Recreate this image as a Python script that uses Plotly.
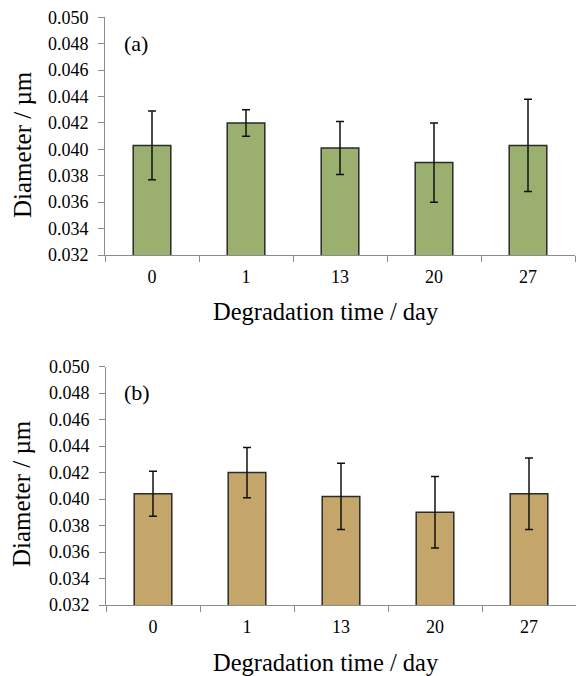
import plotly.graph_objects as go

categories = ["0", "1", "13", "20", "27"]
diam_a = [0.0403, 0.0420, 0.0401, 0.0390, 0.0403]
err_a = [0.0026, 0.0010, 0.0020, 0.0030, 0.0035]
diam_b = [0.0404, 0.0420, 0.0402, 0.0390, 0.0404]
err_b = [0.0017, 0.0019, 0.0025, 0.0027, 0.0027]
y_ticks = [0.032, 0.034, 0.036, 0.038, 0.040, 0.042, 0.044, 0.046, 0.048, 0.050]

W, H = 576, 676
FONT = "Liberation Serif"

fig = go.Figure()
fig.add_trace(go.Bar(x=categories, y=diam_a, xaxis="x", yaxis="y",
                     marker=dict(color="#9bb06f", line=dict(color="#2b2b2b", width=1.5)),
                     error_y=dict(type="data", array=err_a, visible=True, color="#111111",
                                  thickness=1.5, width=4),
                     showlegend=False))
fig.add_trace(go.Bar(x=categories, y=diam_b, xaxis="x2", yaxis="y2",
                     marker=dict(color="#c4a66a", line=dict(color="#2b2b2b", width=1.5)),
                     error_y=dict(type="data", array=err_b, visible=True, color="#111111",
                                  thickness=1.5, width=4),
                     showlegend=False))

def yax(domain, anchor):
    return dict(domain=domain, anchor=anchor, range=[0.032, 0.050], tickvals=y_ticks,
                tickformat=".3f", showgrid=False, zeroline=False, showline=True,
                linecolor="#8c8c8c", linewidth=1, ticks="outside", ticklen=6,
                tickcolor="#8c8c8c", automargin=False, ticklabelstandoff=6,
                tickfont=dict(family=FONT, size=18, color="black"))

def xax(domain, anchor):
    return dict(domain=domain, anchor=anchor, type="category", tickson="boundaries",
                showgrid=False, zeroline=False, showline=True, linecolor="#8c8c8c",
                linewidth=1, ticks="outside", ticklen=6, tickcolor="#8c8c8c", automargin=False,
                ticklabelstandoff=5, tickfont=dict(family=FONT, size=18, color="black"))

def py(pix):
    return 1 - pix / H

fig.update_layout(
    width=W, height=H, margin=dict(l=0, r=0, t=0, b=0, pad=0), autosize=False,
    paper_bgcolor="white", plot_bgcolor="white", bargap=0.6,
    font=dict(family=FONT, color="black"),
    xaxis=xax([105 / W, 575 / W], "y"),
    yaxis=yax([py(255), py(17.3)], "x"),
    xaxis2=xax([106 / W, 1.0], "y2"),
    yaxis2=yax([py(605), py(366.7)], "x2"),
)

ann = [
    dict(text="(a)", x=122 / W, y=py(43), xanchor="left", yanchor="middle", size=22),
    dict(text="(b)", x=122 / W, y=py(392), xanchor="left", yanchor="middle", size=22),
    dict(text="Degradation time / day", x=326 / W, y=py(311), xanchor="center", yanchor="middle", size=24.5),
    dict(text="Degradation time / day", x=326 / W, y=py(662), xanchor="center", yanchor="middle", size=24.5),
]
for a in ann:
    fig.add_annotation(text=a["text"], x=a["x"], y=a["y"], xref="paper", yref="paper",
                       xanchor=a["xanchor"], yanchor=a["yanchor"], showarrow=False,
                       font=dict(family=FONT, size=a["size"], color="black"))
for yc in (145, 494):
    fig.add_annotation(text="Diameter / µm", x=22 / W, y=py(yc), xref="paper", yref="paper",
                       xanchor="center", yanchor="middle", textangle=-90, showarrow=False,
                       font=dict(family=FONT, size=25, color="black"))

fig.write_html("out.html", config={"displayModeBar": False},
               post_script="document.body.style.margin='0';document.body.style.overflow='hidden';")
